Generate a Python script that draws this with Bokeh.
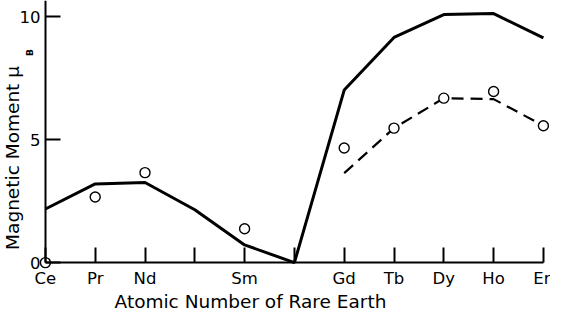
import math
from bokeh.plotting import figure
from bokeh.models import FixedTicker, Range1d, Label, LinearAxis
from bokeh.embed import file_html
from bokeh.resources import INLINE

# ---- data ----
elements = ["Ce", "Pr", "Nd", "Pm", "Sm", "Eu", "Gd", "Tb", "Dy", "Ho", "Er"]
tick_labels = ["Ce", "Pr", "Nd", "", "Sm", "", "Gd", "Tb", "Dy", "Ho", "Er"]
theory_idx = list(range(11))
theory_moment = [2.18, 3.20, 3.26, 2.15, 0.72, 0.0, 7.02, 9.16, 10.09, 10.13, 9.14]
exp_idx = [0, 1, 2, 4, 6, 7, 8, 9, 10]
exp_moment = [0.0, 2.67, 3.66, 1.38, 4.66, 5.47, 6.69, 6.96, 5.57]
dash_idx = [6, 7, 8, 9, 10]
dash_moment = [3.64, 5.47, 6.69, 6.65, 5.57]
y_ticks = [0, 5, 10]

FONT = "DejaVu Sans"
W, H = 550, 312

# ---- layout (pixels in the figure) ----
AX_X = 44.9        # pixel x of the y axis (first element)
PX = 49.8          # pixels per element step
AX_Y = 262.1       # pixel y of the zero line
PY = 24.58         # pixels per unit of moment

x_start = -AX_X / PX
x_end = (W - AX_X) / PX
y_start = -(H - AX_Y) / PY
y_end = AX_Y / PY

def dx(px):
    return (px - AX_X) / PX

def dy(py):
    return (AX_Y - py) / PY

p = figure(width=W, height=H, output_backend="svg", toolbar_location=None,
           x_range=Range1d(x_start, x_end), y_range=Range1d(y_start, y_end),
           x_axis_location=None, y_axis_location=None,
           min_border=0, min_border_left=0, min_border_right=0,
           min_border_top=0, min_border_bottom=0)
p.outline_line_color = None
p.grid.grid_line_color = None
p.background_fill_color = "white"
p.border_fill_color = "white"

# x axis, fixed at moment 0
xa = LinearAxis(fixed_location=0, bounds=(0, 10))
xa.ticker = FixedTicker(ticks=theory_idx)
xa.major_label_overrides = {i: lab for i, lab in enumerate(tick_labels)}
xa.major_tick_in = 15
xa.major_tick_out = 0
xa.minor_tick_line_color = None
xa.axis_line_width = 2
xa.major_tick_line_width = 2
xa.axis_line_color = "black"
xa.major_tick_line_color = "black"
xa.major_label_standoff = 6
xa.major_label_text_font = FONT
xa.major_label_text_font_size = "16.5px"
xa.major_label_text_color = "black"
p.add_layout(xa, "below")

# y axis, fixed at first element
ya = LinearAxis(fixed_location=0, bounds=(0, y_end))
ya.ticker = FixedTicker(ticks=y_ticks)
ya.major_tick_in = 15
ya.major_tick_out = 0
ya.minor_tick_line_color = None
ya.axis_line_width = 2
ya.major_tick_line_width = 2
ya.axis_line_color = "black"
ya.major_tick_line_color = "black"
ya.major_label_standoff = 5
ya.major_label_text_font = FONT
ya.major_label_text_font_size = "16.5px"
ya.major_label_text_color = "black"
p.add_layout(ya, "left")

# lines and markers
p.line(theory_idx, theory_moment, line_color="black", line_width=3)
p.line(dash_idx, dash_moment, line_color="black", line_width=2.2, line_dash="12 7")
p.scatter(exp_idx, exp_moment, marker="circle", size=10, fill_color="white",
          line_color="black", line_width=1.4)

# axis titles
p.add_layout(Label(x=dx(250), y=dy(301), text="Atomic Number of Rare Earth",
                   text_align="center", text_baseline="middle",
                   text_font=FONT, text_font_size="18.5px", text_color="black"))
p.add_layout(Label(x=dx(12), y=dy(249.4), text="Magnetic Moment μ", angle=math.pi / 2,
                   text_align="left", text_baseline="middle",
                   text_font=FONT, text_font_size="18.5px", text_color="black"))
p.add_layout(Label(x=dx(29.5), y=dy(52), text="B", angle=math.pi / 2,
                   text_align="center", text_baseline="middle",
                   text_font=FONT, text_font_size="9px", text_font_style="bold",
                   text_color="black"))

open("out.html", "w").write(file_html(p, INLINE))
